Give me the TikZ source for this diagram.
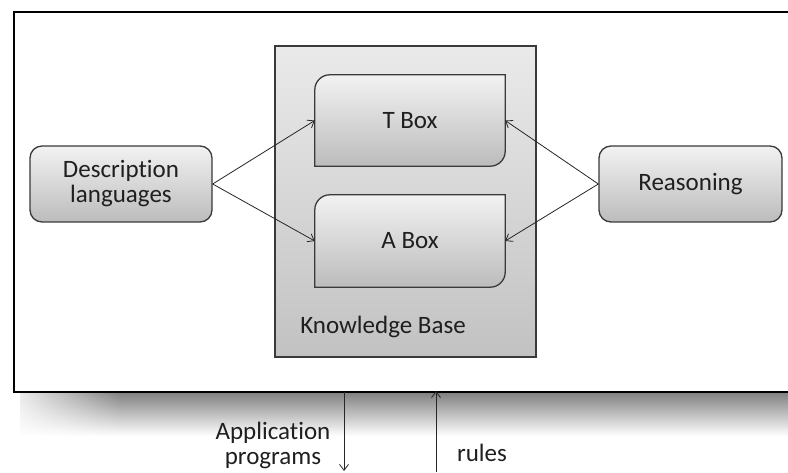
\documentclass[tikz,border=0pt]{standalone}
\usepackage{fontspec}
\setmainfont{Carlito}[Ligatures={NoCommon,NoRare}]
\usetikzlibrary{arrows.meta,fadings,backgrounds}
\definecolor{edge}{HTML}{3A3A3A}
\definecolor{boxtop}{HTML}{F2F2F2}
\definecolor{boxbot}{HTML}{BCBCBC}
\definecolor{kbtop}{HTML}{EAEAEA}
\definecolor{kbbot}{HTML}{C2C2C2}
\begin{document}
\begin{tikzpicture}[x=1pt,y=1pt,
  lbl/.style={font=\fontsize{25}{25}\selectfont, align=center, text=black!88},
  rbox/.style={draw=edge, line width=1.3pt, rounded corners=12pt, top color=boxtop, bottom color=boxbot,
    minimum width=182pt, minimum height=76pt, inner sep=0pt, lbl},
  place/.style={minimum width=190pt, minimum height=91pt, inner sep=0pt, lbl},
  dshape/.style={draw=edge, line width=1.3pt, top color=boxtop, bottom color=boxbot},
  arr/.style={draw=black!85, line width=0.8pt, -{Straight Barb[length=6pt,width=9pt]}}]
\useasboundingbox (0,0) rectangle (788,472);

% nodes
\node[rbox] (dl) at (121,288) {Description\\languages};
\node[rbox, minimum width=183pt] (rs) at (690.5,288) {Reasoning};
\node[place] (tbox) at (410,351.5) {T Box};
\node[place, minimum height=92pt] (abox) at (410,231) {A Box};
\node[lbl] (kblbl) at (383,145) {Knowledge Base};

\coordinate (apptop) at (344,80);
\coordinate (appbot) at (344,1);
\coordinate (rulbot) at (436,0);
\coordinate (rultop) at (436,81);

\begin{scope}[on background layer]
  % shadow under the frame
  \fill[top color=black!50, bottom color=white] (20,80) rectangle (790,36);
  \fill[white, path fading=east] (0,90) rectangle (120,30);
  % frame
  \draw[line width=2pt, fill=white] (14,80) rectangle (800,460);
  % knowledge base
  \draw[draw=edge, line width=1.3pt, top color=kbtop, bottom color=kbbot] (275,115) rectangle (536,426);
  % T box and A box
  \foreach \n in {tbox,abox}{
    \draw[dshape] (\n.north east) -- ([yshift=15pt]\n.south east)
      arc[start angle=0, end angle=-90, radius=15pt] -- (\n.south west)
      -- ([yshift=-15pt]\n.north west) arc[start angle=180, end angle=90, radius=15pt] -- cycle;
  }
\end{scope}

% connectors
\draw[arr] (dl.east) -- (tbox.west);
\draw[arr] (dl.east) -- (abox.west);
\draw[arr] (rs.west) -- (tbox.east);
\draw[arr] (rs.west) -- (abox.east);
\draw[arr] (apptop) -- (appbot);
\draw[arr] (rulbot) -- (rultop);

\node[lbl] (applbl) at (273,27) {Application\\programs};
\node[lbl] (rules) at (482,19) {rules};
\end{tikzpicture}
\end{document}
